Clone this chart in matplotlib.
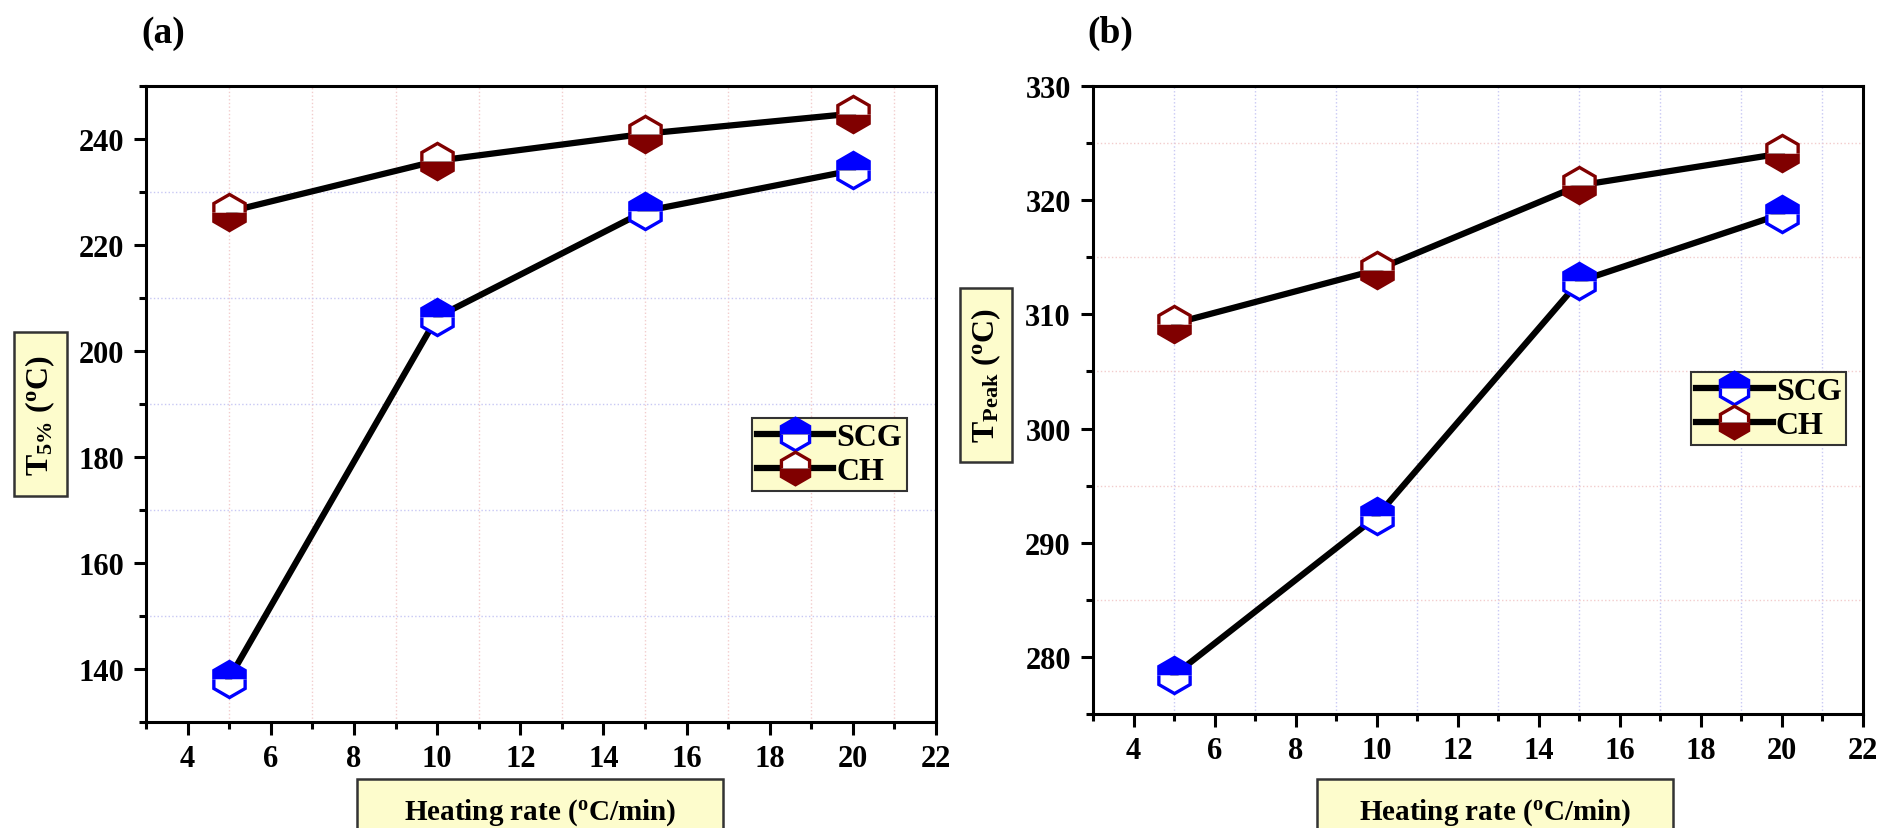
import numpy as np
import matplotlib
matplotlib.use("Agg")
import matplotlib.pyplot as plt
from matplotlib.patches import Rectangle
from matplotlib.ticker import MultipleLocator

plt.rcParams['font.family'] = 'Liberation Serif'
plt.rcParams['font.weight'] = 'bold'
plt.rcParams['mathtext.fontset'] = 'custom'
plt.rcParams['mathtext.rm'] = 'Liberation Serif:bold'
plt.rcParams['mathtext.it'] = 'Liberation Serif:bold'
plt.rcParams['mathtext.bf'] = 'Liberation Serif:bold'
plt.rcParams['mathtext.default'] = 'rm'

# data
rate = [5, 10, 15, 20]
t5_scg = [138.2, 206.4, 226.4, 234.1]
t5_ch = [226.3, 235.9, 241.0, 244.8]
tpeak_scg = [278.4, 292.3, 312.9, 318.8]
tpeak_ch = [309.2, 313.9, 321.3, 324.1]

fig = plt.figure(figsize=(18.77, 8.29), dpi=100)
ax1 = fig.add_axes([0.0778, 0.1279, 0.4209, 0.7671])
ax2 = fig.add_axes([0.5823, 0.1375, 0.4102, 0.7575])

box_col = '#fdfccc'


def style(ax, ylim, ymaj, ymin, hcol, vcol):
    ax.set_xlim(3, 22)
    ax.set_ylim(*ylim)
    ax.xaxis.set_major_locator(MultipleLocator(2))
    ax.xaxis.set_minor_locator(MultipleLocator(1))
    ax.yaxis.set_major_locator(MultipleLocator(ymaj))
    ax.yaxis.set_minor_locator(MultipleLocator(ymin))
    for s in ax.spines.values():
        s.set_linewidth(2.2)
    ax.tick_params(which='major', direction='out', length=9, width=2.2,
                   labelsize=22, pad=7)
    ax.tick_params(which='minor', direction='out', length=5, width=2.2)
    # grid lines only at the odd (minor) positions
    for x in np.arange(5, 22, 2):
        ax.axvline(x, color=vcol, lw=1, ls=':', zorder=0)
    for y in np.arange(ylim[0], ylim[1] + 0.01, ymin):
        if round(y) % ymaj != 0 and ylim[0] < y < ylim[1]:
            ax.axhline(y, color=hcol, lw=1, ls=':', zorder=0)
    for lab in ax.get_xticklabels() + ax.get_yticklabels():
        lab.set_fontweight('bold')


def draw(ax, scg, ch, loc):
    ax.plot(rate, scg, '-h', color='black', lw=4.5, ms=26, mew=2.4,
            fillstyle='top', markerfacecolor='#0000ff', markerfacecoloralt='white',
            markeredgecolor='#0000ff', label='SCG', zorder=3)
    ax.plot(rate, ch, '-h', color='black', lw=4.5, ms=26, mew=2.4,
            fillstyle='bottom', markerfacecolor='#800000', markerfacecoloralt='white',
            markeredgecolor='#800000', label='CH', zorder=3)
    leg = ax.legend(loc='upper left', bbox_to_anchor=loc, fontsize=23,
                    handlelength=2.4, handletextpad=0.1, labelspacing=0.15,
                    borderpad=0.15, borderaxespad=0, fancybox=False,
                    framealpha=1, markerscale=0.9)
    leg.get_frame().set_facecolor(box_col)
    leg.get_frame().set_edgecolor('#333333')
    leg.get_frame().set_linewidth(1.5)


style(ax1, (130, 250), 20, 10, '#c8c8f4', '#f2cccc')
style(ax2, (275, 330), 10, 5, '#f2cccc', '#c8c8f4')
draw(ax1, t5_scg, t5_ch, (0.767, 0.478))
draw(ax2, tpeak_scg, tpeak_ch, (0.777, 0.545))


def label_box(x0, y0, w, h, text, rot, size):
    fig.patches.append(Rectangle((x0, y0), w, h, transform=fig.transFigure,
                                 facecolor=box_col, edgecolor='#333333', lw=1.8))
    fig.text(x0 + w / 2, y0 + h / 2, text, rotation=rot, ha='center',
             va='center', fontsize=size, fontweight='bold')


label_box(0.0075, 0.4005, 0.0282, 0.1978, r'T$_{5\%}$ ($^{o}$C)', 90, 23)
label_box(0.5115, 0.4415, 0.0277, 0.2099, r'T$_{Peak}$ ($^{o}$C)', 90, 23)
label_box(0.1902, -0.02, 0.1950, 0.0791, r'Heating rate ($^{o}$C/min)', 0, 21)
label_box(0.7017, -0.02, 0.1897, 0.0791, r'Heating rate ($^{o}$C/min)', 0, 21)

fig.text(0.0868, 0.96, '(a)', fontsize=27, fontweight='bold', ha='center', va='center')
fig.text(0.5914, 0.96, '(b)', fontsize=27, fontweight='bold', ha='center', va='center')

fig.savefig('out.png', dpi=100)
